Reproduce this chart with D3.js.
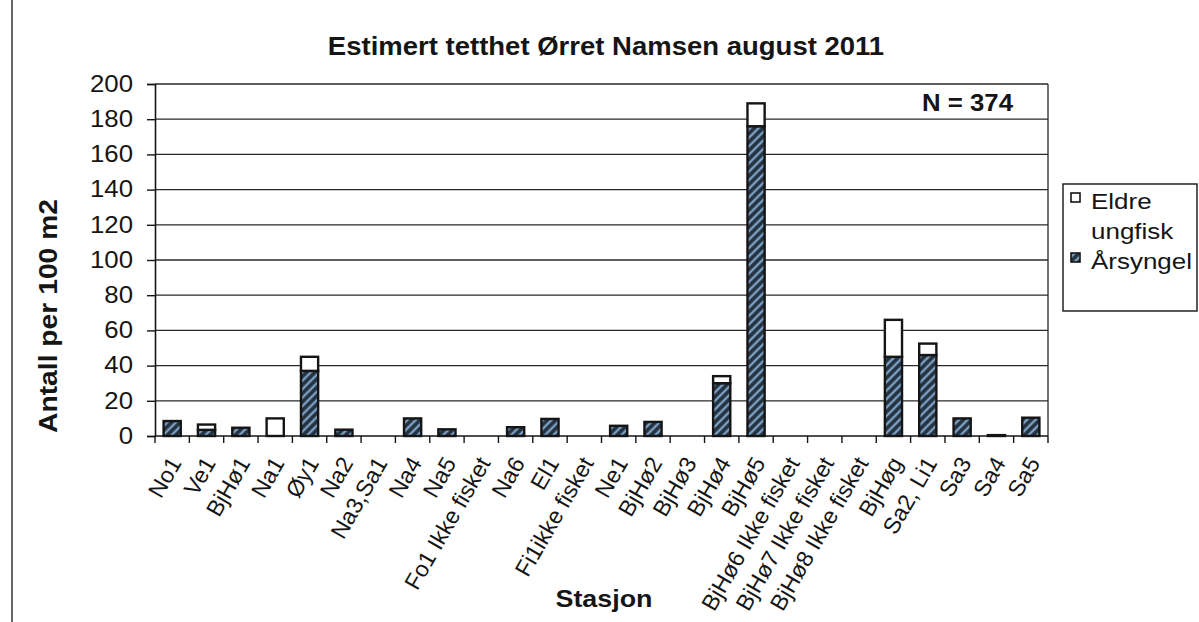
<!DOCTYPE html>
<html>
<head>
<meta charset="utf-8">
<script src="https://cdn.jsdelivr.net/npm/d3@7"></script>
<style>
  html, body { margin: 0; padding: 0; background: #fff; }
  svg { display: block; font-family: "Liberation Sans", Arial, sans-serif; }
</style>
</head>
<body>
<svg id="chart" width="1199" height="622"></svg>
<script>
// Stations along the river (x categories)
const stations = ["No1", "Ve1", "BjHø1", "Na1", "Øy1", "Na2", "Na3,Sa1", "Na4", "Na5",
  "Fo1 Ikke fisket", "Na6", "El1", "Fi1ikke fisket", "Ne1", "BjHø2", "BjHø3", "BjHø4",
  "BjHø5", "BjHø6 Ikke fisket", "BjHø7 Ikke fisket", "BjHø8 Ikke fisket", "BjHøg",
  "Sa2, Li1", "Sa3", "Sa4", "Sa5"];

// Density per 100 m2: young of the year (Årsyngel) and older juveniles (Eldre ungfisk)
const arsyngel = [8.5, 3.5, 4.7, 0, 37, 3.6, 0, 10, 3.8, 0, 5, 9.7, 0, 5.8, 8, 0, 30,
  176, 0, 0, 0, 45, 46, 10, 0.5, 10.4];
const eldre = [0, 3, 0, 10, 8, 0, 0, 0, 0, 0, 0, 0, 0, 0, 0, 0, 4,
  13, 0, 0, 0, 21, 6.5, 0, 0, 0];

const yTicks = [0, 20, 40, 60, 80, 100, 120, 140, 160, 180, 200];
const seriesNames = ["Eldre ungfisk", "Årsyngel"];

const svg = d3.select("#chart");
const ink = "#151515";

const plot = { left: 155, right: 1048, top: 84, bottom: 436 };

// widen a text run horizontally by a factor (the lettering is set wide)
function widen(sel, factor) {
  sel.each(function () {
    const len = this.getComputedTextLength();
    d3.select(this).attr("textLength", len * factor).attr("lengthAdjust", "spacingAndGlyphs");
  });
}

// Hatch fill for the Årsyngel segments
const defs = svg.append("defs");
const pat = defs.append("pattern")
  .attr("id", "hatch")
  .attr("patternUnits", "userSpaceOnUse")
  .attr("width", 6).attr("height", 6)
  .attr("patternTransform", "rotate(45)");
pat.append("rect").attr("width", 6).attr("height", 6).attr("fill", "#22313f");
pat.append("line").attr("x1", 3).attr("y1", 0).attr("x2", 3).attr("y2", 6)
  .attr("stroke", "#7c9fc2").attr("stroke-width", 2.4);

// page edge line on the left
svg.append("line").attr("x1", 12).attr("x2", 12).attr("y1", 0).attr("y2", 622)
  .attr("stroke", "#333").attr("stroke-width", 1.5);

const x = d3.scaleBand().domain(stations).range([plot.left, plot.right]).paddingInner(0.5).paddingOuter(0.25);
const xOuter = d3.scaleBand().domain(stations).range([plot.left, plot.right]);
const y = d3.scaleLinear().domain([0, 200]).range([plot.bottom, plot.top]);

// gridlines
svg.append("g").selectAll("line").data(yTicks.filter(d => d > 0)).join("line")
  .attr("x1", plot.left).attr("x2", plot.right)
  .attr("y1", d => y(d)).attr("y2", d => y(d))
  .attr("stroke", "#2a2a2a").attr("stroke-width", 1.3);

// right border of plot area
svg.append("line").attr("x1", plot.right).attr("x2", plot.right)
  .attr("y1", plot.top).attr("y2", plot.bottom)
  .attr("stroke", "#2a2a2a").attr("stroke-width", 1.3);

// stacked bars
const rows = stations.map((s, i) => ({ station: s, "Årsyngel": arsyngel[i], "Eldre ungfisk": eldre[i] }));
const stack = d3.stack().keys(["Årsyngel", "Eldre ungfisk"])(rows);
const fills = { "Årsyngel": "url(#hatch)", "Eldre ungfisk": "#ffffff" };

svg.append("g").selectAll("g").data(stack).join("g")
  .attr("fill", d => fills[d.key])
  .selectAll("rect").data(d => d.filter(p => p[1] - p[0] > 0)).join("rect")
  .attr("x", d => x(d.data.station))
  .attr("width", x.bandwidth())
  .attr("y", d => y(d[1]))
  .attr("height", d => y(d[0]) - y(d[1]))
  .attr("stroke", ink).attr("stroke-width", 2.4);

// y axis
const yAxis = d3.axisLeft(y).tickValues(yTicks).tickSize(8).tickPadding(14);
const gy = svg.append("g").attr("transform", `translate(${plot.left},0)`).call(yAxis);
gy.select(".domain").attr("stroke", ink).attr("stroke-width", 1.6);
gy.selectAll(".tick line").attr("stroke", ink).attr("stroke-width", 1.4);
gy.selectAll(".tick text").attr("font-size", 23).attr("fill", ink)
  .attr("font-family", "Liberation Sans, Arial, sans-serif")
  .call(widen, 1.12);

// x axis with ticks on category boundaries
const gx = svg.append("g").attr("transform", `translate(0,${plot.bottom})`);
gx.append("line").attr("x1", plot.left).attr("x2", plot.right)
  .attr("stroke", ink).attr("stroke-width", 1.6);
gx.selectAll(".bound").data(stations.concat(["_end"])).join("line")
  .attr("class", "bound")
  .attr("x1", (d, i) => plot.left + i * xOuter.step())
  .attr("x2", (d, i) => plot.left + i * xOuter.step())
  .attr("y1", 0).attr("y2", 7)
  .attr("stroke", ink).attr("stroke-width", 1.4);
gx.selectAll("text").data(stations).join("text")
  .attr("transform", d => `translate(${xOuter(d) + xOuter.bandwidth() / 2 + 10},${27}) rotate(-60)`)
  .attr("text-anchor", "end")
  .attr("font-size", 23).attr("fill", ink)
  .text(d => d);

// titles
svg.append("text").attr("x", 606).attr("y", 55).attr("text-anchor", "middle")
  .attr("font-size", 25).attr("font-weight", "bold").attr("fill", ink)
  .text("Estimert tetthet Ørret Namsen august 2011")
  .call(widen, 1.1);

svg.append("text").attr("transform", "translate(57,316) rotate(-90)")
  .attr("text-anchor", "middle").attr("font-size", 25).attr("font-weight", "bold").attr("fill", ink)
  .text("Antall per 100 m2")
  .call(widen, 1.13);

svg.append("text").attr("x", 604).attr("y", 607).attr("text-anchor", "middle")
  .attr("font-size", 24).attr("font-weight", "bold").attr("fill", ink)
  .text("Stasjon")
  .call(widen, 1.12);

svg.append("text").attr("x", 1013).attr("y", 111).attr("text-anchor", "end")
  .attr("font-size", 23).attr("font-weight", "bold").attr("fill", ink)
  .text("N = 374")
  .call(widen, 1.12);

// legend
const lg = svg.append("g");
lg.append("rect").attr("x", 1063).attr("y", 184).attr("width", 134).attr("height", 127)
  .attr("fill", "#fff").attr("stroke", ink).attr("stroke-width", 1.4);
const legendItems = [
  { name: seriesNames[0], fill: "#ffffff", lines: ["Eldre", "ungfisk"], y: 209 },
  { name: seriesNames[1], fill: "url(#hatch)", lines: ["Årsyngel"], y: 269 }
];
legendItems.forEach(it => {
  lg.append("rect").attr("x", 1071).attr("y", it.y - 16).attr("width", 9).attr("height", 9)
    .attr("fill", it.fill).attr("stroke", ink).attr("stroke-width", 1.6);
  it.lines.forEach((t, k) => {
    lg.append("text").attr("x", 1091).attr("y", it.y + k * 30)
      .attr("font-size", 22).attr("fill", ink).text(t)
      .call(widen, 1.18);
  });
});
</script>
</body>
</html>
